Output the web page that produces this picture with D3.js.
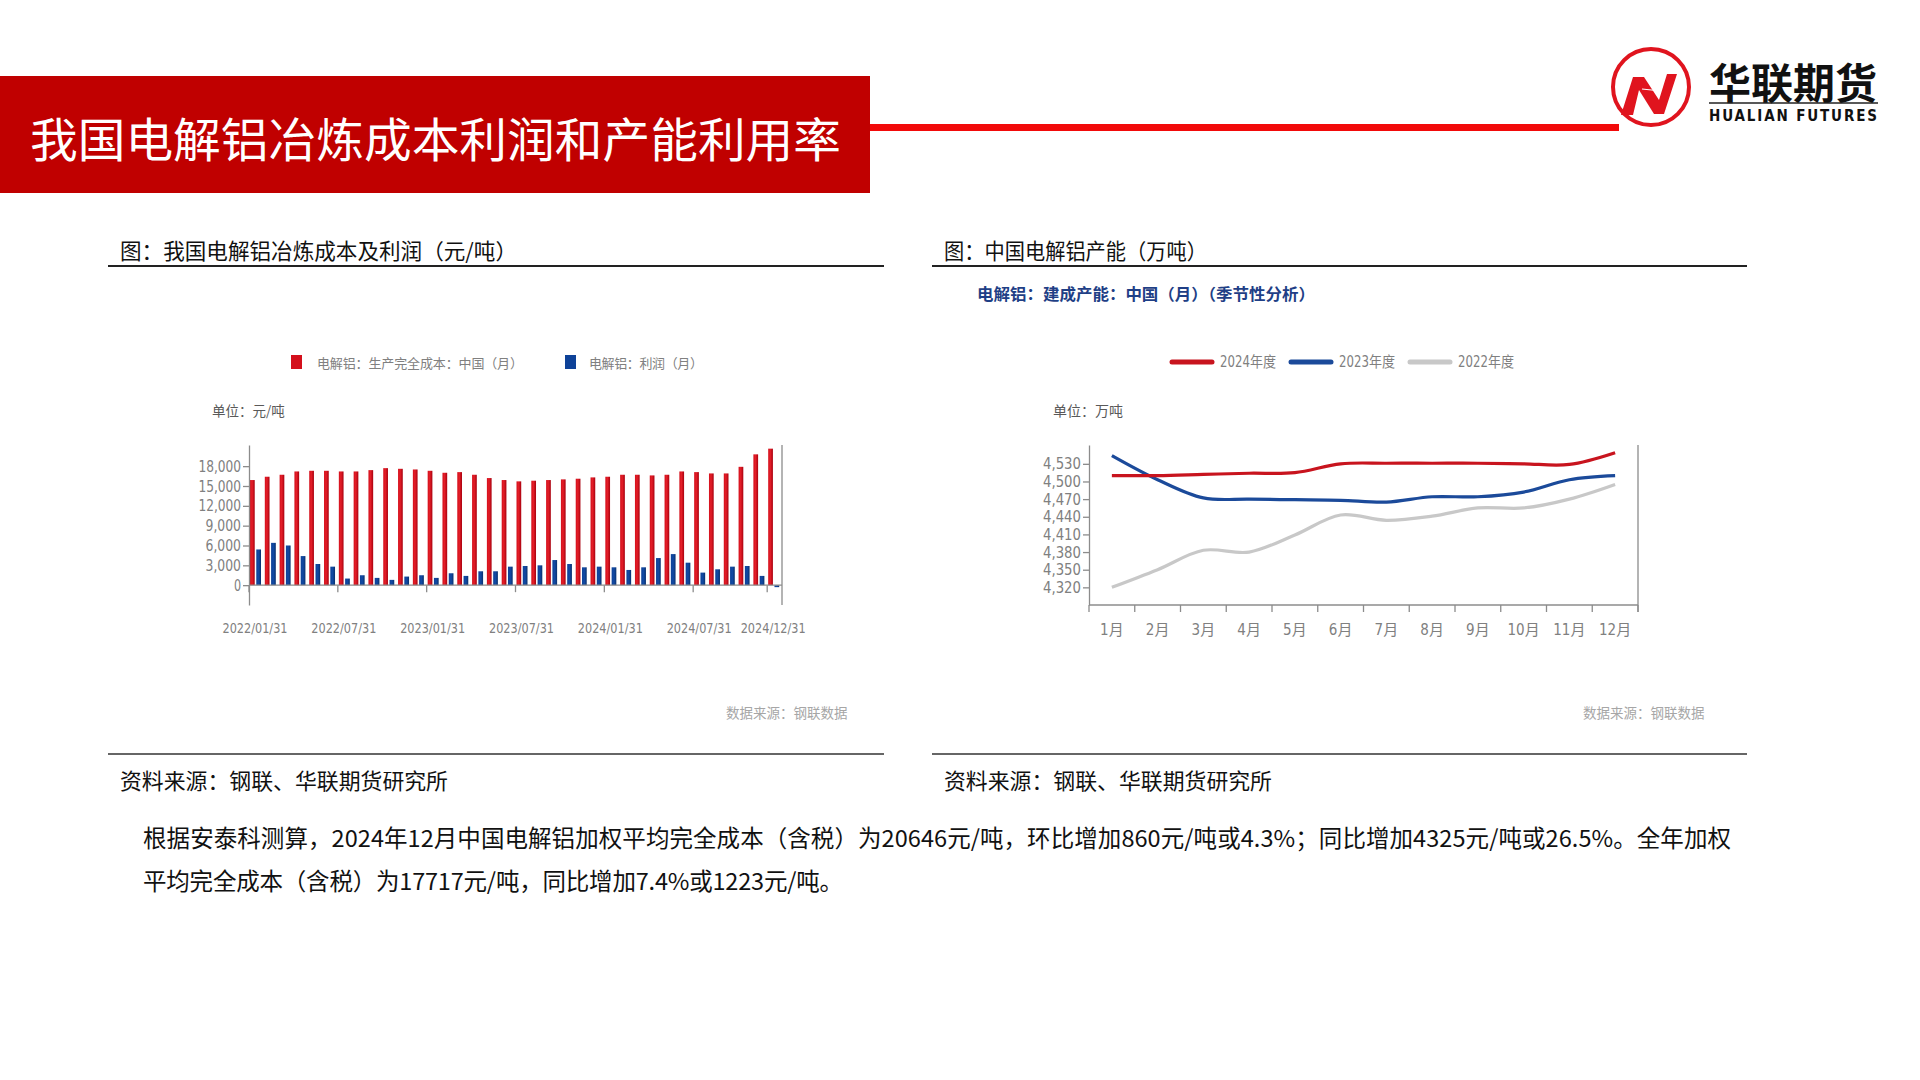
<!DOCTYPE html>
<html>
<head>
<meta charset="utf-8">
<script src="https://cdn.jsdelivr.net/npm/d3@7"></script>
<style>
  body { margin: 0; background: #fff; }
  svg { display: block; font-family: "Noto Sans CJK SC", "Noto Sans", sans-serif; }
  .narrow { font-family: "Liberation Sans Narrow", "DejaVu Sans Condensed", "Noto Sans CJK SC", sans-serif; }
</style>
</head>
<body>
<script>
// ---- left chart: cost & profit (元/吨) ----
var months = ["2022-01","2022-02","2022-03","2022-04","2022-05","2022-06","2022-07","2022-08","2022-09","2022-10","2022-11","2022-12",
              "2023-01","2023-02","2023-03","2023-04","2023-05","2023-06","2023-07","2023-08","2023-09","2023-10","2023-11","2023-12",
              "2024-01","2024-02","2024-03","2024-04","2024-05","2024-06","2024-07","2024-08","2024-09","2024-10","2024-11","2024-12"];
var costValues = [15900,16400,16700,17200,17300,17300,17200,17200,17400,17700,17600,17500,
                  17300,17000,17100,16700,16200,15900,15700,15800,15900,16000,16100,16300,
                  16400,16700,16700,16600,16700,17200,17100,16900,16900,17900,19786,20646];
var profitValues = [5400,6400,6000,4400,3200,2800,1000,1500,1100,800,1300,1500,
                    1100,1800,1400,2100,2100,2800,2900,3000,3800,3200,2700,2800,
                    2700,2300,2700,4100,4700,3400,1900,2400,2800,2900,1400,-300];
var costTicks = [0,3000,6000,9000,12000,15000,18000];
var dateTicks = ["2022-01","2022-07","2023-01","2023-07","2024-01","2024-07","2024-12"];
var dateTickLabels = ["2022/01/31","2022/07/31","2023/01/31","2023/07/31","2024/01/31","2024/07/31","2024/12/31"];
var barSeries = ["电解铝：生产完全成本：中国（月）","电解铝：利润（月）"];

// ---- right chart: capacity (万吨), seasonal ----
var monthNames = ["1月","2月","3月","4月","5月","6月","7月","8月","9月","10月","11月","12月"];
var cap2024 = [4510,4510,4512,4514,4515,4530,4531,4531,4531,4530,4529,4549];
var cap2023 = [4544,4503,4472,4470,4469,4468,4465,4474,4474,4482,4503,4510];
var cap2022 = [4320,4350,4383,4380,4409,4443,4434,4441,4455,4455,4470,4495];
var capTicks = [4320,4350,4380,4410,4440,4470,4500,4530];
var yearNames = ["2024年度","2023年度","2022年度"];
var yearColors = ["#C8141E","#1B4A9A","#C8C8C8"];

var svg = d3.select("body").append("svg")
    .attr("width", 1920)
    .attr("height", 1080);

// squeeze numeric labels to the narrow look of the original
function narrowText(sel, perChar) {
  sel.attr("textLength", function() { return this.textContent.length * perChar; })
     .attr("lengthAdjust", "spacingAndGlyphs");
}

var defs = svg.append("defs");
var redGrad = defs.append("linearGradient").attr("id", "bar-red")
    .attr("x1", "0%").attr("x2", "100%").attr("y1", "0%").attr("y2", "0%");
redGrad.selectAll("stop")
    .data([{offset: "0%", color: "#D4101C"}, {offset: "45%", color: "#E41E28"}, {offset: "100%", color: "#A8000E"}])
    .enter().append("stop")
    .attr("offset", function(d) { return d.offset; })
    .attr("stop-color", function(d) { return d.color; });
var blueGrad = defs.append("linearGradient").attr("id", "bar-blue")
    .attr("x1", "0%").attr("x2", "100%").attr("y1", "0%").attr("y2", "0%");
blueGrad.selectAll("stop")
    .data([{offset: "0%", color: "#0E4298"}, {offset: "50%", color: "#124AA4"}, {offset: "100%", color: "#08306E"}])
    .enter().append("stop")
    .attr("offset", function(d) { return d.offset; })
    .attr("stop-color", function(d) { return d.color; });

// ---- header ----
svg.append("rect").attr("x", 0).attr("y", 76).attr("width", 870).attr("height", 117).attr("fill", "#C00000");
svg.append("text").attr("x", 30).attr("y", 136)
    .attr("dominant-baseline", "central")
    .attr("fill", "#fff").attr("font-size", 47)
    .attr("textLength", 811).attr("lengthAdjust", "spacingAndGlyphs")
    .text("我国电解铝冶炼成本利润和产能利用率");
svg.append("rect").attr("x", 870).attr("y", 124).attr("width", 749).attr("height", 7).attr("fill", "#F20A0A");

// logo
var logo = svg.append("g").attr("transform", "translate(1651,87)");
logo.append("circle").attr("r", 38).attr("fill", "#fff").attr("stroke", "#E0141E").attr("stroke-width", 4);
logo.append("polygon")
    .attr("points", "-30,28 -18,-10 -7,-10 8,13 16,-13 26,-13 13,27 3,27 -12,3 -18,28")
    .attr("fill", "#E0141E");
logo.append("line").attr("x1", -9).attr("y1", 2).attr("x2", 10).attr("y2", 4)
    .attr("stroke", "#fff").attr("stroke-width", 1.2);
svg.append("text").attr("x", 1709).attr("y", 80)
    .attr("dominant-baseline", "central")
    .attr("font-size", 42).attr("font-weight", "bold").attr("fill", "#111")
    .attr("textLength", 168).attr("lengthAdjust", "spacingAndGlyphs")
    .text("华联期货");
svg.append("line").attr("x1", 1709).attr("x2", 1878).attr("y1", 103).attr("y2", 103)
    .attr("stroke", "#222").attr("stroke-width", 1.5);
svg.append("text").attr("x", 1709).attr("y", 116)
    .attr("dominant-baseline", "central")
    .attr("font-family", "DejaVu Sans Condensed, sans-serif")
    .attr("font-size", 15).attr("font-weight", 600).attr("fill", "#111")
    .attr("textLength", 168).attr("lengthAdjust", "spacing")
    .text("HUALIAN FUTURES");

// ---- panel titles, rules, sources ----
var panels = [
  {x0: 108, x1: 884, tx: 120, tw: 397, title: "图：我国电解铝冶炼成本及利润（元/吨）"},
  {x0: 932, x1: 1747, tx: 944, tw: 263, title: "图：中国电解铝产能（万吨）"}
];
panels.forEach(function(p) {
  svg.append("text").attr("x", p.tx).attr("y", 249).attr("dominant-baseline", "central")
      .attr("font-size", 21.5).attr("fill", "#111")
      .attr("textLength", p.tw).attr("lengthAdjust", "spacingAndGlyphs").text(p.title);
  svg.append("line").attr("x1", p.x0).attr("x2", p.x1).attr("y1", 266).attr("y2", 266)
      .attr("stroke", "#222").attr("stroke-width", 2);
  svg.append("line").attr("x1", p.x0).attr("x2", p.x1).attr("y1", 754).attr("y2", 754)
      .attr("stroke", "#333").attr("stroke-width", 1.5);
  svg.append("text").attr("x", p.tx).attr("y", 779).attr("dominant-baseline", "central")
      .attr("font-size", 21.5).attr("fill", "#111")
      .attr("textLength", 328).attr("lengthAdjust", "spacingAndGlyphs")
      .text("资料来源：钢联、华联期货研究所");
});

// paragraph
svg.append("text").attr("x", 143).attr("y", 837).attr("dominant-baseline", "central")
    .attr("font-size", 23.5).attr("fill", "#111")
    .attr("textLength", 1588).attr("lengthAdjust", "spacing")
    .text("根据安泰科测算，2024年12月中国电解铝加权平均完全成本（含税）为20646元/吨，环比增加860元/吨或4.3%；同比增加4325元/吨或26.5%。全年加权");
svg.append("text").attr("x", 143).attr("y", 880).attr("dominant-baseline", "central")
    .attr("font-size", 23.5).attr("fill", "#111")
    .attr("textLength", 700).attr("lengthAdjust", "spacing")
    .text("平均完全成本（含税）为17717元/吨，同比增加7.4%或1223元/吨。");

// ---- left chart ----
var gL = svg.append("g");
var xM = d3.scaleBand().domain(months).range([249, 782]);
var x1 = d3.scaleBand().domain(["cost", "profit"]).range([1, 12]).paddingInner(0.25);
var yCost = d3.scaleLinear().domain([-3000, 21200]).range([605, 445]);

// legend
gL.append("rect").attr("x", 291).attr("y", 355).attr("width", 11).attr("height", 14).attr("fill", "#D4101C");
gL.append("text").attr("x", 317).attr("y", 362).attr("dominant-baseline", "central")
    .attr("font-size", 13).attr("fill", "#808080")
    .attr("textLength", 206).attr("lengthAdjust", "spacing").text(barSeries[0]);
gL.append("rect").attr("x", 565).attr("y", 355).attr("width", 11).attr("height", 14).attr("fill", "#0E4298");
gL.append("text").attr("x", 589).attr("y", 362).attr("dominant-baseline", "central")
    .attr("font-size", 13).attr("fill", "#808080")
    .attr("textLength", 114).attr("lengthAdjust", "spacing").text(barSeries[1]);
gL.append("text").attr("x", 212).attr("y", 410).attr("dominant-baseline", "central")
    .attr("font-size", 13.5).attr("fill", "#595959").text("单位：元/吨");
gL.append("text").attr("x", 726).attr("y", 712).attr("dominant-baseline", "central")
    .attr("font-size", 13.5).attr("fill", "#A6A6A6").text("数据来源：钢联数据");

// bars
gL.selectAll("rect.cost").data(costValues).enter().append("rect")
    .attr("class", "cost")
    .attr("x", function(d, i) { return xM(months[i]) + x1("cost"); })
    .attr("width", x1.bandwidth())
    .attr("y", function(d) { return yCost(d); })
    .attr("height", function(d) { return yCost(0) - yCost(d); })
    .attr("fill", "url(#bar-red)");
gL.selectAll("rect.profit").data(profitValues).enter().append("rect")
    .attr("class", "profit")
    .attr("x", function(d, i) { return xM(months[i]) + x1("profit"); })
    .attr("width", x1.bandwidth())
    .attr("y", function(d) { return yCost(Math.max(d, 0)); })
    .attr("height", function(d) { return Math.abs(yCost(0) - yCost(d)); })
    .attr("fill", "url(#bar-blue)");

// y axis
var axL = gL.append("g").attr("class", "narrow")
    .attr("transform", "translate(249,0)")
    .call(d3.axisLeft(yCost).tickValues(costTicks).tickSize(6).tickSizeOuter(0).tickPadding(2)
      .tickFormat(d3.format(",")));
axL.selectAll("path,line").attr("stroke", "#8C8C8C").attr("stroke-width", 1.3);
axL.selectAll("text").attr("fill", "#808080").attr("font-size", 16).call(narrowText, 7.1);

// x axis at zero
gL.append("line").attr("x1", 249).attr("x2", 782).attr("y1", yCost(0)).attr("y2", yCost(0))
    .attr("stroke", "#8C8C8C").attr("stroke-width", 1.3);
gL.selectAll("line.xt").data(dateTicks).enter().append("line")
    .attr("class", "xt")
    .attr("x1", function(d) { return xM(d); }).attr("x2", function(d) { return xM(d); })
    .attr("y1", yCost(0)).attr("y2", yCost(0) + 7)
    .attr("stroke", "#8C8C8C").attr("stroke-width", 1.3);
gL.selectAll("text.xl").data(dateTicks).enter().append("text")
    .attr("class", "xl narrow")
    .attr("x", function(d) { return xM(d) + 6; })
    .attr("y", 628).attr("dominant-baseline", "central").attr("text-anchor", "middle")
    .attr("font-size", 14.5).attr("fill", "#808080")
    .text(function(d, i) { return dateTickLabels[i]; })
    .call(narrowText, 6.5);
gL.append("line").attr("x1", 782).attr("x2", 782).attr("y1", 445).attr("y2", 605)
    .attr("stroke", "#8C8C8C").attr("stroke-width", 1.3);

// ---- right chart ----
var gR = svg.append("g");
var xMon = d3.scaleBand().domain(monthNames).range([1089, 1638]);
var yCap = d3.scaleLinear().domain([4290, 4562]).range([605, 445]);

gR.append("text").attr("x", 977).attr("y", 293).attr("dominant-baseline", "central")
    .attr("font-size", 16).attr("font-weight", "bold").attr("fill", "#1F3F86")
    .attr("textLength", 338).attr("lengthAdjust", "spacingAndGlyphs")
    .text("电解铝：建成产能：中国（月）（季节性分析）");

var legX = [1170, 1289, 1408];
var leg = gR.selectAll("g.leg").data(yearNames).enter().append("g")
    .attr("class", "leg")
    .attr("transform", function(d, i) { return "translate(" + legX[i] + ",362)"; });
leg.append("line").attr("x1", 2).attr("x2", 42).attr("y1", 0).attr("y2", 0)
    .attr("stroke", function(d, i) { return yearColors[i]; })
    .attr("stroke-width", 5).attr("stroke-linecap", "round");
leg.append("text").attr("class", "narrow").attr("x", 50).attr("y", 0).attr("dominant-baseline", "central")
    .attr("font-size", 15).attr("fill", "#808080").text(function(d) { return d; })
    .attr("textLength", 56).attr("lengthAdjust", "spacingAndGlyphs");

gR.append("text").attr("x", 1053).attr("y", 410).attr("dominant-baseline", "central")
    .attr("font-size", 14).attr("fill", "#595959").text("单位：万吨");
gR.append("text").attr("x", 1583).attr("y", 712).attr("dominant-baseline", "central")
    .attr("font-size", 13.5).attr("fill", "#A6A6A6").text("数据来源：钢联数据");

var axR = gR.append("g").attr("class", "narrow")
    .attr("transform", "translate(1089,0)")
    .call(d3.axisLeft(yCap).tickValues(capTicks).tickSize(6).tickSizeOuter(0).tickPadding(2)
      .tickFormat(d3.format(",")));
axR.selectAll("path,line").attr("stroke", "#8C8C8C").attr("stroke-width", 1.3);
axR.selectAll("text").attr("fill", "#808080").attr("font-size", 16).call(narrowText, 7.6);

gR.append("line").attr("x1", 1089).attr("x2", 1638).attr("y1", 605).attr("y2", 605)
    .attr("stroke", "#8C8C8C").attr("stroke-width", 1.3);
var bounds = monthNames.map(function(m) { return xMon(m); }).concat([xMon.range()[1]]);
gR.selectAll("line.mt").data(bounds).enter().append("line")
    .attr("class", "mt")
    .attr("x1", function(d) { return d; }).attr("x2", function(d) { return d; })
    .attr("y1", 605).attr("y2", 612)
    .attr("stroke", "#8C8C8C").attr("stroke-width", 1.3);
gR.selectAll("text.ml").data(monthNames).enter().append("text")
    .attr("class", "ml narrow")
    .attr("x", function(d) { return xMon(d) + xMon.bandwidth() / 2; })
    .attr("y", 630).attr("dominant-baseline", "central").attr("text-anchor", "middle")
    .attr("font-size", 15).attr("fill", "#808080").text(function(d) { return d; });
gR.append("line").attr("x1", 1638).attr("x2", 1638).attr("y1", 445).attr("y2", 612)
    .attr("stroke", "#8C8C8C").attr("stroke-width", 1.3);

var line = d3.line()
    .x(function(d, i) { return xMon(monthNames[i]) + xMon.bandwidth() / 2; })
    .y(function(d) { return yCap(d); })
    .curve(d3.curveCatmullRom.alpha(0.5));
[cap2022, cap2023, cap2024].forEach(function(series, k) {
  gR.append("path").datum(series)
      .attr("d", line)
      .attr("fill", "none")
      .attr("stroke", yearColors[2 - k])
      .attr("stroke-width", 3.2)
      .attr("stroke-linejoin", "round");
});
</script>
</body>
</html>
